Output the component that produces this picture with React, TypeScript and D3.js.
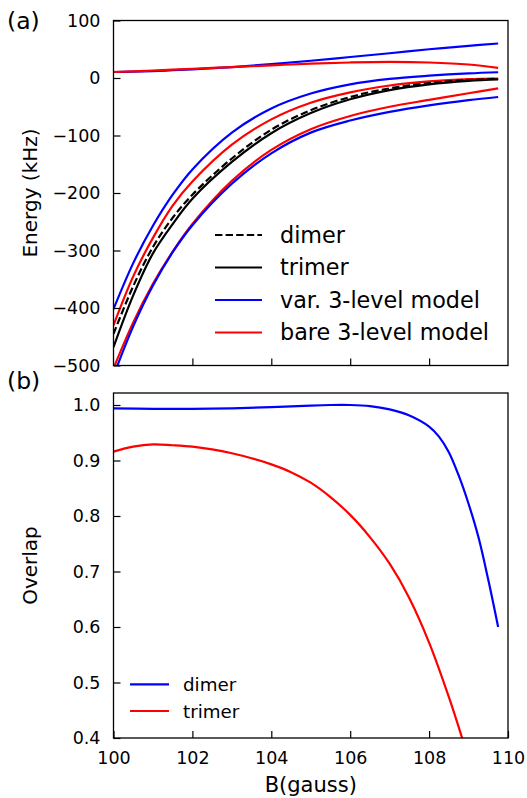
import React, { useEffect, useRef } from 'react';
import * as d3 from 'd3';

// ---- panel (a): energies (kHz) vs magnetic field (gauss)
const bEnergy = [100, 100.5, 101, 101.5, 102, 103, 104, 105, 106, 107, 108, 109, 109.75];
const varUpper = [10.4, 11, 12, 13.5, 15, 19, 24, 30, 36.5, 43, 50, 56, 60];
const bareUpper = [10.4, 11.5, 13, 14.5, 16, 19, 22, 25, 27, 28, 27, 23.5, 17.5];
const varMiddle = [-402, -322, -257, -203, -159, -95, -53, -27, -11, -1.5, 4, 8, 10];
const bareMiddle = [-430, -345, -278, -222, -180, -116, -72, -43, -25, -13, -6, -2, -1];
const dimerEnergy = [-445, -362, -294, -243, -203, -140, -90, -56, -33, -18, -9, -3.5, -1.5];
const trimerEnergy = [-468, -378, -305, -254, -210, -146, -96, -61, -37, -21, -11, -5, -2.5];
const bareLower = [-505, -425, -358, -302, -254, -179, -125, -89, -66, -50, -38, -26.5, -18];
const varLower = [-518, -432, -361, -303, -256, -184, -131, -95, -74, -59, -47.5, -38.5, -33];
const energyTicks = [100, 0, -100, -200, -300, -400, -500];

// ---- panel (b): overlaps
const bDimerOverlap = [100, 101, 102, 103, 104, 105, 105.5, 106, 106.5, 107, 107.5, 108, 108.25, 108.5, 108.75, 109, 109.25, 109.5, 109.75];
const dimerOverlap = [0.994, 0.993, 0.993, 0.994, 0.996, 0.999, 1.0, 1.0, 0.998, 0.992, 0.981, 0.961, 0.943, 0.915, 0.873, 0.822, 0.762, 0.685, 0.6];
const bTrimerOverlap = [100, 100.5, 101, 101.5, 102, 102.5, 103, 103.5, 104, 104.5, 105, 105.5, 106, 106.5, 107, 107.5, 108, 108.5, 108.85];
const trimerOverlap = [0.916, 0.925, 0.929, 0.9275, 0.925, 0.92, 0.913, 0.904, 0.893, 0.879, 0.86, 0.834, 0.802, 0.762, 0.714, 0.652, 0.572, 0.474, 0.397];
const overlapTicks = [0.4, 0.5, 0.6, 0.7, 0.8, 0.9, 1.0];
const bTicks = [100, 102, 104, 106, 108, 110];

const FONT = '"DejaVu Sans", sans-serif';

const energySeries = [
  { name: 'varUpper', values: varUpper, color: '#0000ff', dash: null },
  { name: 'bareUpper', values: bareUpper, color: '#ff0000', dash: null },
  { name: 'varMiddle', values: varMiddle, color: '#0000ff', dash: null },
  { name: 'bareMiddle', values: bareMiddle, color: '#ff0000', dash: null },
  { name: 'dimer', values: dimerEnergy, color: '#000000', dash: '7.4,3.2' },
  { name: 'trimer', values: trimerEnergy, color: '#000000', dash: null },
  { name: 'bareLower', values: bareLower, color: '#ff0000', dash: null },
  { name: 'varLower', values: varLower, color: '#0000ff', dash: null },
];

const legendA = [
  { label: 'dimer', color: '#000000', dash: '7.4,3.2' },
  { label: 'trimer', color: '#000000', dash: null },
  { label: 'var. 3-level model', color: '#0000ff', dash: null },
  { label: 'bare 3-level model', color: '#ff0000', dash: null },
];

const legendB = [
  { label: 'dimer', color: '#0000ff' },
  { label: 'trimer', color: '#ff0000' },
];

const margin = { left: 113.5, right: 508 };
const panelA = { top: 20.5, bottom: 365.5 };
const panelB = { top: 393, bottom: 738 };

const App = () => {
  const yAxisARef = useRef(null);
  const xAxisARef = useRef(null);
  const yAxisBRef = useRef(null);
  const xAxisBRef = useRef(null);

  const x = d3.scaleLinear().domain([100, 110]).range([margin.left, margin.right]);
  const yA = d3.scaleLinear().domain([-500, 100]).range([panelA.bottom, panelA.top]);
  const yB = d3.scaleLinear().domain([0.4, 1.0216]).range([panelB.bottom, panelB.top]);

  const smooth = d3.curveCatmullRom.alpha(0.5);

  const lineA = (vals) => d3.line()
    .x((d, i) => x(bEnergy[i]))
    .y((d) => yA(d))
    .curve(smooth)(vals);

  const lineB = (bs, vals) => d3.line()
    .x((d, i) => x(bs[i]))
    .y((d) => yB(d))
    .curve(smooth)(vals);

  useEffect(() => {
    const style = (sel) => {
      sel.select('.domain').remove();
      sel.selectAll('.tick line').attr('stroke', '#000').attr('stroke-width', 1.2);
      sel.selectAll('.tick text')
        .attr('fill', '#000')
        .style('font-family', FONT)
        .style('font-size', '17.5px');
    };
    d3.select(yAxisARef.current)
      .call(d3.axisLeft(yA).tickValues(energyTicks).tickFormat(d3.format('d')).tickSizeInner(-7).tickSizeOuter(0).tickPadding(13))
      .call(style);
    d3.select(xAxisARef.current)
      .call(d3.axisBottom(x).tickValues(bTicks.slice(1, -1)).tickFormat(() => '').tickSizeInner(-7).tickSizeOuter(0))
      .call(style);
    d3.select(yAxisBRef.current)
      .call(d3.axisLeft(yB).tickValues(overlapTicks).tickFormat(d3.format('.1f')).tickSizeInner(-7).tickSizeOuter(0).tickPadding(13))
      .call(style);
    d3.select(xAxisBRef.current)
      .call(d3.axisBottom(x).tickValues(bTicks).tickFormat(d3.format('d')).tickSizeInner(-7).tickSizeOuter(0).tickPadding(14))
      .call(style);
  }, []);

  const w = margin.right - margin.left;

  return (
    <svg width={527} height={798} style={{ position: 'absolute', left: 0, top: 0, background: '#fff' }}>
      <defs>
        <clipPath id="clipA">
          <rect x={margin.left} y={panelA.top} width={w} height={panelA.bottom - panelA.top} />
        </clipPath>
        <clipPath id="clipB">
          <rect x={margin.left} y={panelB.top} width={w} height={panelB.bottom - panelB.top} />
        </clipPath>
      </defs>

      {/* panel (a) */}
      <g clipPath="url(#clipA)">
        {energySeries.map((s) => (
          <path key={s.name} d={lineA(s.values)} fill="none" stroke={s.color}
            strokeWidth={2.2} strokeDasharray={s.dash || undefined} />
        ))}
      </g>
      <g ref={yAxisARef} transform={`translate(${margin.left},0)`} />
      <g ref={xAxisARef} transform={`translate(0,${panelA.bottom})`} />
      <rect x={margin.left} y={panelA.top} width={w} height={panelA.bottom - panelA.top}
        fill="none" stroke="#000" strokeWidth={1.3} />
      {legendA.map((d, i) => {
        const ry = 235 + i * 32.5;
        return (
          <g key={d.label}>
            <line x1={215} x2={262} y1={ry} y2={ry} stroke={d.color} strokeWidth={2.2}
              strokeDasharray={d.dash || undefined} />
            <text x={280} y={ry + 7.8} fontFamily={FONT} fontSize={22.3}>{d.label}</text>
          </g>
        );
      })}
      <text x={36.5} y={(panelA.top + panelA.bottom) / 2} fontFamily={FONT} fontSize={20}
        textAnchor="middle" transform={`rotate(-90,36.5,${(panelA.top + panelA.bottom) / 2})`}>Energy (kHz)</text>
      <text x={7} y={29} fontFamily={FONT} fontSize={23.5}>(a)</text>

      {/* panel (b) */}
      <g clipPath="url(#clipB)">
        <path d={lineB(bDimerOverlap, dimerOverlap)} fill="none" stroke="#0000ff" strokeWidth={2.2} />
        <path d={lineB(bTrimerOverlap, trimerOverlap)} fill="none" stroke="#ff0000" strokeWidth={2.2} />
      </g>
      <g ref={yAxisBRef} transform={`translate(${margin.left},0)`} />
      <g ref={xAxisBRef} transform={`translate(0,${panelB.bottom})`} />
      <rect x={margin.left} y={panelB.top} width={w} height={panelB.bottom - panelB.top}
        fill="none" stroke="#000" strokeWidth={1.3} />
      {legendB.map((d, i) => {
        const ry = 684.3 + i * 26.7;
        return (
          <g key={d.label}>
            <line x1={130} x2={169} y1={ry} y2={ry} stroke={d.color} strokeWidth={2.2} />
            <text x={183} y={ry + 6.7} fontFamily={FONT} fontSize={18.3}>{d.label}</text>
          </g>
        );
      })}
      <text x={36.5} y={(panelB.top + panelB.bottom) / 2} fontFamily={FONT} fontSize={20}
        textAnchor="middle" transform={`rotate(-90,36.5,${(panelB.top + panelB.bottom) / 2})`}>Overlap</text>
      <text x={7} y={389} fontFamily={FONT} fontSize={23.5}>(b)</text>
      <text x={(margin.left + margin.right) / 2} y={792} fontFamily={FONT} fontSize={21}
        textAnchor="middle">B(gauss)</text>
    </svg>
  );
};

export default App;
